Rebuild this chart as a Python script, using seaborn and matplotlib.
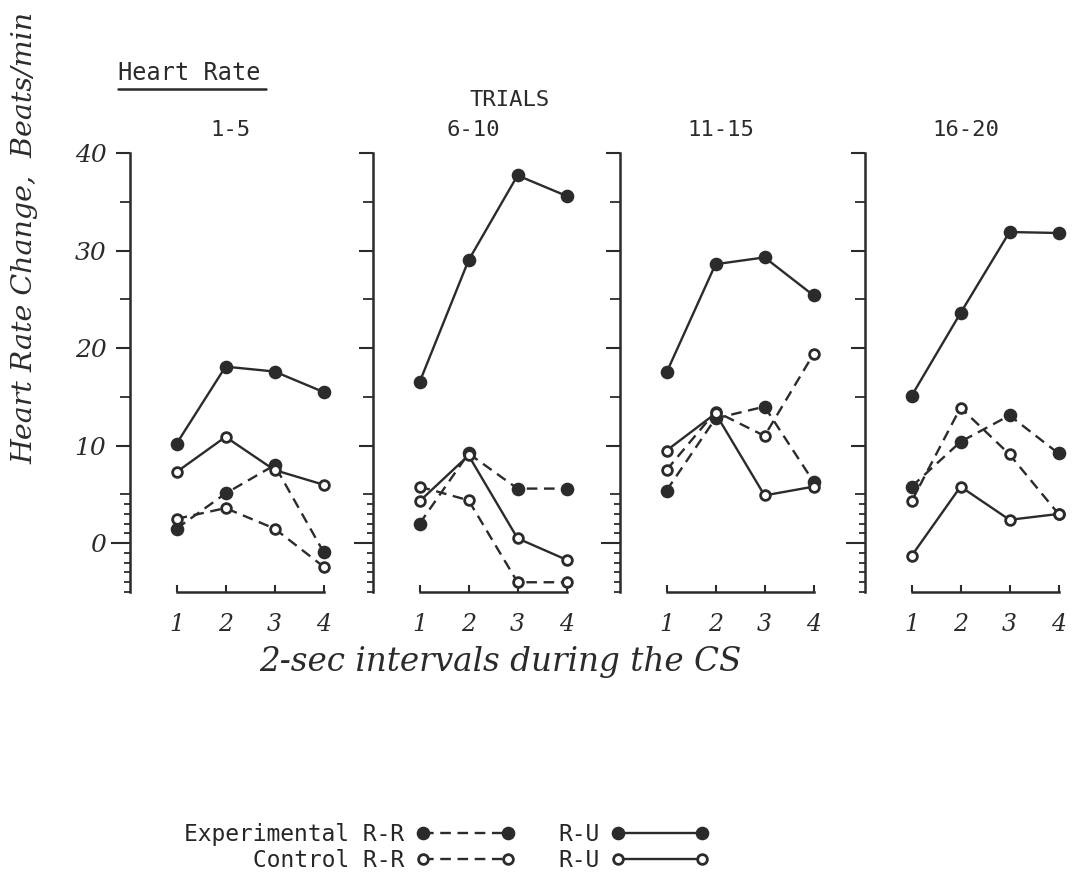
import numpy as np
import pandas as pd
import matplotlib
matplotlib.use("Agg")
import matplotlib.pyplot as plt
import seaborn as sns

# ---------------- data ----------------
intervals = [1, 2, 3, 4]
trial_blocks = ["1-5", "6-10", "11-15", "16-20"]

exp_rr = [[1.5, 5.1, 8.0, -0.9],
          [2.0, 9.2, 5.6, 5.6],
          [5.4, 12.8, 14.0, 6.3],
          [5.8, 10.4, 13.1, 9.2]]
exp_ru = [[10.2, 18.1, 17.6, 15.5],
          [16.5, 29.0, 37.7, 35.6],
          [17.5, 28.6, 29.3, 25.4],
          [15.1, 23.6, 31.9, 31.8]]
ctrl_rr = [[2.5, 3.6, 1.5, -2.4],
           [5.8, 4.4, -4.0, -4.0],
           [7.5, 13.5, 11.0, 19.4],
           [4.3, 13.9, 9.1, 3.0]]
ctrl_ru = [[7.3, 10.9, 7.5, 6.0],
           [4.3, 9.0, 0.5, -1.7],
           [9.5, 13.3, 4.9, 5.8],
           [-1.3, 5.8, 2.4, 3.0]]

y_major = [0, 10, 20, 30, 40]
y_labels = ["0", "10", "20", "30", "40"]

DASH = (0, (4.5, 2.8))
groups = [
    ("Experimental R-R", exp_rr, True, DASH),
    ("Control R-R", ctrl_rr, False, DASH),
    ("Experimental R-U", exp_ru, True, "-"),
    ("Control R-U", ctrl_ru, False, "-"),
]

rows = []
for gname, vals, _, _ in groups:
    for b, block in enumerate(trial_blocks):
        for i, v in zip(intervals, vals[b]):
            rows.append({"group": gname, "block": block, "interval": i, "value": v})
df = pd.DataFrame(rows)

# ---------------- style ----------------
sns.set_theme(style="white")
plt.rcParams["font.family"] = ["DejaVu Sans"]
INK = "#2b2b2b"
MONO = "DejaVu Sans Mono"
SCRIPT = "DejaVu Serif"

W, H = 1078, 888
fig = plt.figure(figsize=(W / 100, H / 100), dpi=100)

left_px = [130, 373, 620, 865]
top_px, bot_px = 153, 592
xlo, xhi = 0.05, 4.2
unit_px = 49
width_px = (xhi - xlo) * unit_px

axes = []
for b, block in enumerate(trial_blocks):
    ax = fig.add_axes([left_px[b] / W, 1 - bot_px / H, width_px / W, (bot_px - top_px) / H])
    axes.append(ax)
    sub = df[df["block"] == block]
    for gname, _, filled, ls in groups:
        d = sub[sub["group"] == gname]
        sns.lineplot(data=d, x="interval", y="value", ax=ax, color=INK,
                     linestyle=ls, linewidth=1.7,
                     marker="o",
                     markersize=8.8 if filled else 7,
                     markerfacecolor=INK if filled else "white",
                     markeredgecolor=INK,
                     markeredgewidth=1.0 if filled else 2.0,
                     label=gname, legend=False, errorbar=None,
                     clip_on=False)
    ax.set_xlim(xlo, xhi)
    ax.set_ylim(-5, 40)
    ax.set_xlabel("")
    ax.set_ylabel("")
    for s in ["top", "right"]:
        ax.spines[s].set_visible(False)
    for s in ["left", "bottom"]:
        ax.spines[s].set_color(INK)
        ax.spines[s].set_linewidth(1.8)
    ax.spines["bottom"].set_bounds(1, 4)
    ax.set_facecolor("none")

    # x ticks
    ax.set_xticks(intervals)
    ax.set_xticklabels([str(i) for i in intervals], fontsize=17, fontstyle="italic",
                       family=SCRIPT, color=INK)
    ax.tick_params(axis="x", direction="in", length=5, width=1.5, color=INK, pad=15,
                   bottom=True)

    # y ticks
    ax.set_yticks(y_major)
    minor = [-5, -4, -3, -2, -1, 1, 2, 3, 4, 5, 15, 25, 35]
    ax.set_yticks(minor, minor=True)
    ax.tick_params(axis="y", which="major", direction="out", length=10, width=1.5,
                   color=INK, left=True, pad=7)
    ax.tick_params(axis="y", which="minor", direction="out", length=4, width=1.3,
                   color=INK, left=True)
    if b == 0:
        ax.set_yticklabels(y_labels, fontsize=18, fontstyle="italic", family=SCRIPT,
                           color=INK)
    else:
        ax.set_yticklabels([])
    ax.set_title(block, fontsize=16, family=MONO, color=INK, x=(2.1 - xlo) / (xhi - xlo),
                 pad=12)

fig.canvas.draw()
for ax in axes:
    for t in ax.yaxis.get_minor_ticks():
        if t.get_loc() in (5, 15, 25, 35):
            t.tick1line.set_markersize(7)
    for t in ax.yaxis.get_major_ticks():
        if t.get_loc() == 0:
            t.tick1line.set_markersize(14)

# ---------------- texts ----------------
fig.text(118 / W, 1 - 73 / H, "Heart Rate", fontsize=17, family=MONO, color=INK,
         ha="left", va="center")
fig.add_artist(plt.Line2D([118 / W, 266 / W], [1 - 89 / H, 1 - 89 / H], color=INK, lw=1.8))
fig.text(510 / W, 1 - 100 / H, "TRIALS", fontsize=16, family=MONO, color=INK,
         ha="center", va="center")
fig.text(25 / W, 1 - 238 / H, "Heart Rate Change,  Beats/min", rotation=90,
         fontsize=20.5, fontstyle="italic", family=SCRIPT, color=INK, ha="center", va="center")
fig.text(500 / W, 1 - 662 / H, "2-sec intervals during the CS", fontsize=23.5,
         fontstyle="italic", family=SCRIPT, color=INK, ha="center", va="center")

# ---------------- legend ----------------
lines = axes[0].get_lines()
handles = [lines[0], lines[1], lines[2], lines[3]]
labels = ["Experimental R-R", "Control R-R", "R-U", "R-U"]
fig.legend(handles, labels, ncol=2, markerfirst=False, numpoints=2, frameon=False,
           prop={"family": MONO, "size": 16.5}, handlelength=4.3, handletextpad=0.5,
           columnspacing=1.9, labelspacing=0.1, borderpad=0,
           loc="upper left", bbox_to_anchor=(173 / W, 1 - 812 / H))

fig.savefig("out.png", dpi=100, facecolor="white")
